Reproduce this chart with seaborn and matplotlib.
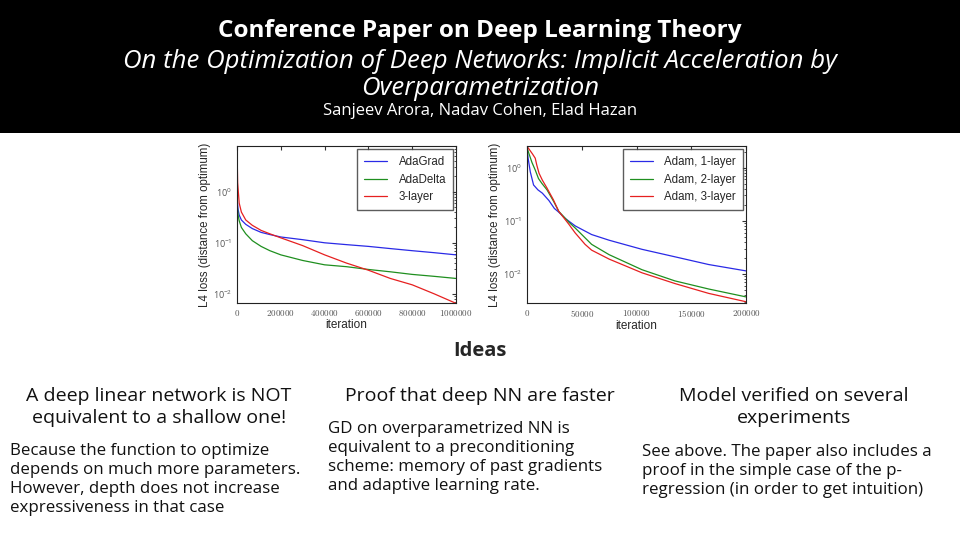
import pandas as pd
import seaborn as sns
import matplotlib.pyplot as plt
from matplotlib.patches import Rectangle
from matplotlib.ticker import FuncFormatter

# left panel: full-batch optimizers vs. 3-layer
left_iter_blue = [0, 5000, 10000, 20000, 40000, 70000, 110000, 150000, 200000, 300000,
                  400000, 500000, 600000, 700000, 800000, 900000, 1000000]
adagrad = [0.8, 0.45, 0.35, 0.28, 0.23, 0.19, 0.16, 0.145, 0.13, 0.115,
           0.10, 0.092, 0.085, 0.077, 0.07, 0.064, 0.058]
left_iter_green = [0, 5000, 10000, 20000, 40000, 70000, 110000, 150000, 200000, 300000,
                   400000, 500000, 600000, 700000, 800000, 900000, 1000000]
adadelta = [0.6, 0.35, 0.27, 0.2, 0.15, 0.11, 0.085, 0.07, 0.058, 0.045,
            0.037, 0.034, 0.030, 0.027, 0.024, 0.022, 0.020]
left_iter_red = [0, 3000, 10000, 20000, 40000, 70000, 110000, 150000, 200000, 300000,
                 400000, 500000, 600000, 700000, 800000, 900000, 1000000]
layer3_left = [7.0, 1.5, 0.6, 0.4, 0.28, 0.22, 0.175, 0.15, 0.125, 0.088,
               0.058, 0.040, 0.029, 0.02, 0.015, 0.010, 0.0065]
left_names = ["AdaGrad", "AdaDelta", "3-layer"]

# right panel: Adam at different depths
right_iter_blue = [0, 1000, 3000, 6000, 10000, 14000, 20000, 25000, 29000, 35000,
                   44000, 59000, 75000, 105000, 135000, 166000, 200000]
adam1 = [2.4, 1.5, 0.83, 0.47, 0.38, 0.33, 0.24, 0.17, 0.145, 0.11,
         0.08, 0.055, 0.043, 0.029, 0.021, 0.015, 0.0114]
right_iter_green = [0, 1500, 4500, 7500, 10500, 13700, 18300, 24350, 29000, 38000,
                    44000, 59000, 75000, 105000, 135000, 166000, 200000]
adam2 = [2.4, 1.9, 1.25, 0.9, 0.62, 0.5, 0.38, 0.23, 0.15, 0.095,
         0.073, 0.036, 0.023, 0.012, 0.0074, 0.0052, 0.0037]
right_iter_red = [0, 2000, 5000, 7500, 9000, 11000, 14000, 18000, 24000, 29000,
                  38000, 44000, 53000, 59000, 75000, 105000, 135000, 166000, 200000]
adam3 = [2.5, 2.2, 1.8, 1.5, 1.1, 0.78, 0.58, 0.42, 0.25, 0.15,
         0.087, 0.059, 0.036, 0.028, 0.019, 0.0105, 0.0066, 0.0043, 0.003]
right_names = ["Adam, 1-layer", "Adam, 2-layer", "Adam, 3-layer"]

left_xticks = [0, 200000, 400000, 600000, 800000, 1000000]
right_xticks = [0, 50000, 100000, 150000, 200000]

headings = ["A deep linear network is NOT\nequivalent to a shallow one!",
            "Proof that deep NN are faster",
            "Model verified on several\nexperiments"]
bodies = [
    ["Because the function to optimize", "depends on much more parameters.",
     "However, depth does not increase", "expressiveness in that case"],
    ["GD on overparametrized NN is", "equivalent to a preconditioning",
     "scheme: memory of past gradients", "and adaptive learning rate."],
    ["See above. The paper also includes a", "proof in the simple case of the p-",
     "regression (in order to get intuition)"],
]

left_df = pd.concat([
    pd.DataFrame({"iteration": left_iter_blue, "loss": adagrad, "method": left_names[0]}),
    pd.DataFrame({"iteration": left_iter_green, "loss": adadelta, "method": left_names[1]}),
    pd.DataFrame({"iteration": left_iter_red, "loss": layer3_left, "method": left_names[2]}),
])
right_df = pd.concat([
    pd.DataFrame({"iteration": right_iter_blue, "loss": adam1, "method": right_names[0]}),
    pd.DataFrame({"iteration": right_iter_green, "loss": adam2, "method": right_names[1]}),
    pd.DataFrame({"iteration": right_iter_red, "loss": adam3, "method": right_names[2]}),
])

sns.set_style("white")
plt.rcParams["font.family"] = ["Open Sans", "DejaVu Sans"]
plt.rcParams["mathtext.fontset"] = "cm"

colors = ["#2a2ae6", "#1f8f1f", "#e62020"]

fig = plt.figure(figsize=(9.6, 5.4), dpi=100)
fig.patches.append(Rectangle((0, 1 - 133 / 540), 1, 133 / 540, transform=fig.transFigure,
                             facecolor="black", edgecolor="none", zorder=0))


def py(px):
    return 1 - px / 540


fig.text(0.5, py(31), "Conference Paper on Deep Learning Theory", color="white",
         fontsize=17.5, fontweight="bold", ha="center", va="center")
fig.text(0.5, py(68), "On the Optimization of Deep Networks: Implicit Acceleration by",
         color="white", fontsize=18.5, style="italic", ha="center", va="baseline")
fig.text(0.5, py(95), "Overparametrization", color="white", fontsize=18.5,
         style="italic", ha="center", va="baseline")
fig.text(0.5, py(111), "Sanjeev Arora, Nadav Cohen, Elad Hazan", color="white",
         fontsize=12, ha="center", va="center")

ax1 = fig.add_axes([237 / 960, py(303), 219 / 960, 157 / 540])
ax2 = fig.add_axes([527 / 960, py(303), 219 / 960, 157 / 540])

panels = [
    (ax1, left_df, left_names, left_xticks, (0, 1000000), (0.0066, 7.9)),
    (ax2, right_df, right_names, right_xticks, (0, 200000), (0.00284, 2.54)),
]
for ax, df, names, xticks, xlim, ylim in panels:
    sns.lineplot(data=df, x="iteration", y="loss", hue="method", hue_order=names,
                 palette=colors, linewidth=0.9, ax=ax, sort=False)
    ax.set_yscale("log")
    ax.set_xlim(*xlim)
    ax.set_ylim(*ylim)
    ax.set_xticks(xticks)
    ax.xaxis.set_major_formatter(FuncFormatter(lambda v, p: f"${int(v)}$"))
    ax.tick_params(which="both", direction="in", top=True, right=True,
                   labelsize=6.5, colors="#333333", labelcolor="#555555")
    ax.tick_params(which="major", length=3)
    ax.tick_params(which="minor", length=1.5)
    for s in ax.spines.values():
        s.set_color("#222222")
        s.set_linewidth(0.8)
    ax.set_xlabel("iteration", fontsize=8.5, family="Liberation Sans", labelpad=1)
    ax.set_ylabel("L4 loss (distance from optimum)", fontsize=8.3,
                  family="Liberation Sans", labelpad=1)
    ax.legend(loc="upper right", prop={"family": "Liberation Sans", "size": 8.3},
              fancybox=False, edgecolor="#333333", handlelength=2.0, borderpad=0.6,
              labelspacing=0.5, borderaxespad=0.25, handletextpad=1.0)

fig.text(0.5, py(356), "Ideas", fontsize=14.5, fontweight="bold", ha="center",
         va="baseline")

head_x = [159, 480, 794]
for hx, head in zip(head_x, headings):
    for k, line in enumerate(head.split("\n")):
        fig.text(hx / 960, py(401 + 22 * k), line, fontsize=14, ha="center",
                 va="baseline", color="#111111")

body_x = [10, 328, 642]
body_y0 = [455, 433, 456]
for bx, by, lines in zip(body_x, body_y0, bodies):
    for k, line in enumerate(lines):
        fig.text(bx / 960, py(by + 19 * k), line, fontsize=12.2, ha="left",
                 va="baseline", color="#111111")

fig.savefig("out.png", dpi=100)
